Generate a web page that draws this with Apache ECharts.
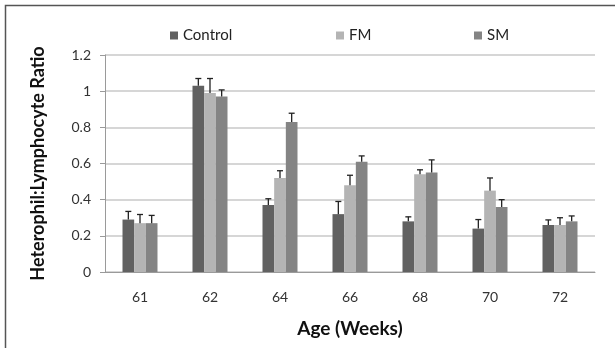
<!DOCTYPE html>
<html>
<head>
<meta charset="utf-8">
<script src="https://cdn.jsdelivr.net/npm/echarts@6/dist/echarts.min.js"></script>
<style>
html,body{margin:0;padding:0;background:#fff;}
#c{width:615px;height:348px;}
</style>
</head>
<body>
<div id="c"></div>
<script>
var categories = ['61', '62', '64', '66', '68', '70', '72'];
var seriesNames = ['Control', 'FM', 'SM'];
var controlValues = [0.29, 1.03, 0.37, 0.32, 0.28, 0.24, 0.26];
var fmValues = [0.27, 0.99, 0.52, 0.48, 0.54, 0.45, 0.26];
var smValues = [0.27, 0.97, 0.83, 0.61, 0.55, 0.36, 0.28];
var controlErr = [0.045, 0.04, 0.035, 0.07, 0.025, 0.05, 0.028];
var fmErr = [0.048, 0.08, 0.04, 0.055, 0.025, 0.07, 0.04];
var smErr = [0.043, 0.037, 0.048, 0.032, 0.07, 0.04, 0.03];
var yTicks = [0, 0.2, 0.4, 0.6, 0.8, 1, 1.2];

var colors = ['#616161', '#b4b4b4', '#848484'];
var font = 'Lato';
var values = [controlValues, fmValues, smValues];
var errs = [controlErr, fmErr, smErr];

var chart = echarts.init(document.getElementById('c'), null, {renderer: 'canvas'});

function errSeries(k) {
  return {
    type: 'custom',
    name: seriesNames[k] + ' err',
    z: 5,
    data: values[k].map(function (v, i) { return [i, v, v + errs[k][i]]; }),
    renderItem: function (params, api) {
      var ci = api.value(0);
      var base = api.coord([ci, api.value(1)]);
      var top = api.coord([ci, api.value(2)]);
      var band = api.size([1, 0])[0];
      var bw = band * 0.5 / 3;
      var x = base[0] + (k - 1) * bw;
      var cap = 3;
      var st = {stroke: '#222', lineWidth: 1.3};
      return {
        type: 'group',
        children: [
          {type: 'line', shape: {x1: x, y1: base[1], x2: x, y2: top[1]}, style: st},
          {type: 'line', shape: {x1: x - cap, y1: top[1], x2: x + cap, y2: top[1]}, style: st}
        ]
      };
    }
  };
}

var legendLefts = [165, 331, 469];
var legends = seriesNames.map(function (n, k) {
  return {
    data: [n],
    left: legendLefts[k],
    top: 23,
    itemWidth: 8,
    itemHeight: 8,
    itemGap: 6,
    icon: 'rect',
    selectedMode: false,
    textStyle: {fontFamily: font, fontSize: 15, color: '#222'}
  };
});

var series = seriesNames.map(function (n, k) {
  return {
    type: 'bar',
    name: n,
    data: values[k],
    itemStyle: {color: colors[k]},
    barGap: '0%',
    barCategoryGap: '50%'
  };
});
series = series.concat([errSeries(0), errSeries(1), errSeries(2)]);

chart.setOption({
  animation: false,
  color: colors,
  graphic: [{
    type: 'rect',
    shape: {x: 5.5, y: 5.5, width: 700, height: 400},
    style: {fill: 'none', stroke: '#555', lineWidth: 1.5},
    silent: true
  }],
  legend: legends,
  grid: {left: 105, right: 20, top: 55, bottom: 76, containLabel: false},
  xAxis: {
    type: 'category',
    data: categories,
    axisLine: {lineStyle: {color: '#9a9a9a', width: 1}},
    axisTick: {show: false},
    axisLabel: {fontFamily: font, fontSize: 14, color: '#333', margin: 18},
    name: 'Age (Weeks)',
    nameLocation: 'middle',
    nameGap: 47,
    nameTextStyle: {fontFamily: font, fontSize: 19, fontWeight: 'bold', color: '#111'}
  },
  yAxis: {
    type: 'value',
    min: 0,
    max: 1.2,
    interval: 0.2,
    axisLine: {show: true, lineStyle: {color: '#9a9a9a', width: 1}},
    axisTick: {show: true, length: 5, lineStyle: {color: '#9a9a9a'}},
    axisLabel: {
      fontFamily: font, fontSize: 14, color: '#333', margin: 14,
      formatter: function (v) {
        for (var i = 0; i < yTicks.length; i++) {
          if (Math.abs(yTicks[i] - v) < 1e-9) return String(yTicks[i]);
        }
        return '';
      }
    },
    splitLine: {lineStyle: {color: '#c8c8c8', width: 1.5}},
    name: 'Heterophil:Lymphocyte Ratio',
    nameLocation: 'middle',
    nameGap: 58,
    nameRotate: 90,
    nameTextStyle: {fontFamily: font, fontSize: 18, fontWeight: 'bold', color: '#111'}
  },
  series: series
});
</script>
</body>
</html>
